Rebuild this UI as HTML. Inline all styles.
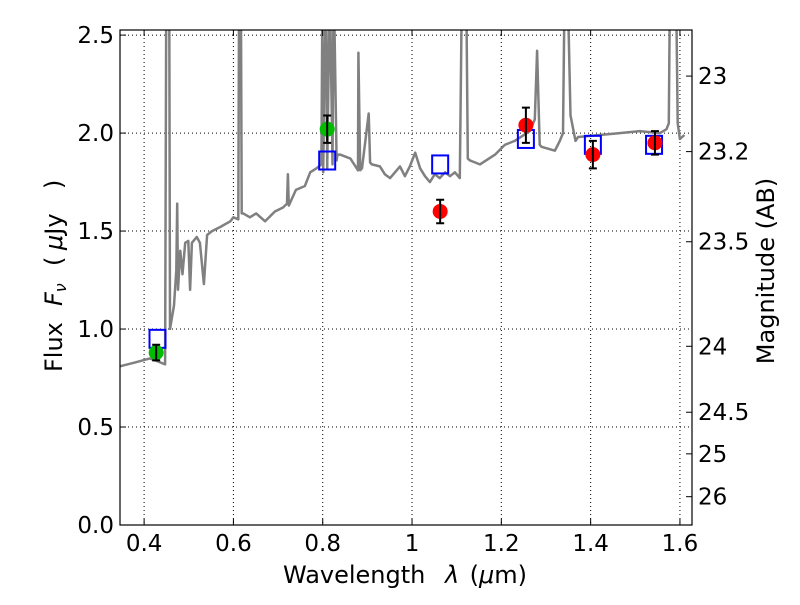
<!DOCTYPE html>
<html><head><meta charset="utf-8"><style>
body{margin:0;background:#fff;}
svg text{font-family:"DejaVu Sans","Liberation Sans",sans-serif;fill:#000;}
</style></head><body>
<svg id="chart" width="800" height="600" xmlns="http://www.w3.org/2000/svg">
<rect width="800" height="600" fill="#fff"/>
<g id="grid"></g>
<g id="spec"></g>
<g id="marks"></g>
<g id="axes"></g>
</svg>
<script>
const specLam=[0.346,0.38,0.413,0.425,0.436,0.447,0.4495,0.451,0.455,0.4565,0.458,0.467,0.472,0.474,0.476,0.481,0.486,0.492,0.499,0.503,0.507,0.518,0.525,0.534,0.541,0.552,0.57,0.593,0.6,0.611,0.6125,0.617,0.6185,0.622,0.637,0.651,0.671,0.693,0.711,0.720,0.722,0.724,0.74,0.76,0.772,0.786,0.797,0.799,0.801,0.806,0.808,0.810,0.815,0.817,0.822,0.824,0.826,0.831,0.833,0.839,0.862,0.879,0.880,0.884,0.888,0.903,0.906,0.910,0.928,0.939,0.951,0.973,0.984,0.995,1.007,1.018,1.029,1.04,1.051,1.062,1.074,1.085,1.096,1.107,1.111,1.113,1.122,1.125,1.13,1.152,1.186,1.208,1.23,1.264,1.275,1.28,1.286,1.29,1.32,1.331,1.338,1.341,1.347,1.350,1.355,1.366,1.372,1.42,1.465,1.51,1.555,1.570,1.575,1.577,1.592,1.595,1.600,1.610,1.627];
const specFlux=[0.81,0.83,0.85,0.84,0.83,0.82,2.6,2.6,2.6,2.6,1.0,1.12,1.3,1.64,1.2,1.4,1.28,1.44,1.45,1.2,1.44,1.47,1.44,1.23,1.48,1.50,1.52,1.55,1.57,1.56,2.6,2.6,1.59,1.59,1.57,1.59,1.55,1.60,1.62,1.64,1.79,1.63,1.71,1.73,1.80,1.82,1.84,2.6,1.80,2.6,2.6,1.82,2.6,2.6,1.84,2.6,2.6,1.86,1.89,1.89,1.87,1.81,2.41,1.81,1.82,2.10,1.85,1.84,1.83,1.79,1.77,1.83,1.78,1.83,1.90,1.82,1.78,1.75,1.79,1.77,1.80,1.78,1.80,1.77,2.6,2.6,2.6,1.87,1.86,1.84,1.89,1.94,1.96,2.01,2.07,2.42,1.94,1.93,1.91,1.96,2.0,2.6,2.6,2.6,2.09,1.96,1.98,1.99,2.0,2.01,2.0,2.02,2.05,2.6,2.6,2.05,1.97,1.99];
const photLam=[0.427,0.81,1.063,1.255,1.405,1.544];
const photFlux=[0.88,2.02,1.60,2.04,1.89,1.95];
const photErr=[0.04,0.07,0.06,0.09,0.07,0.06];
const photColor=['#00bb00','#00bb00','#ff0000','#ff0000','#ff0000','#ff0000'];
const modelLam=[0.43,0.81,1.063,1.255,1.405,1.542];
const modelFlux=[0.95,1.86,1.84,1.97,1.94,1.94];
const xTicks=[0.4,0.6,0.8,1.0,1.2,1.4,1.6];
const xTickLabels=['0.4','0.6','0.8','1','1.2','1.4','1.6'];
const yTicks=[0,0.5,1,1.5,2,2.5];
const yTickLabels=['0.0','0.5','1.0','1.5','2.0','2.5'];
const magTicks=[23,23.2,23.5,24,24.5,25,26];
const magTickLabels=['23','23.2','23.5','24','24.5','25','26'];

const L=120,R=692,T=30,B=525,X0=0.346,X1=1.627,Y0=0,Y1=2.526;
const sx=v=>L+(v-X0)/(X1-X0)*(R-L);
const sy=v=>B-(v-Y0)/(Y1-Y0)*(B-T);
const NS='http://www.w3.org/2000/svg';
function mk(parent,tag,attrs,txt){const e=document.createElementNS(NS,tag);for(const k in attrs)e.setAttribute(k,attrs[k]);if(txt!==undefined)e.textContent=txt;parent.appendChild(e);return e;}
const grid=document.getElementById('grid'),spec=document.getElementById('spec'),marks=document.getElementById('marks'),axes=document.getElementById('axes');

xTicks.forEach(t=>{const g=mk(grid,'line',{x1:sx(t),x2:sx(t),y1:T,y2:B,stroke:'#000','stroke-width':1,'stroke-dasharray':'1,3'});

});
yTicks.forEach(t=>{const g=mk(grid,'line',{x1:L,x2:R,y1:sy(t),y2:sy(t),stroke:'#000','stroke-width':1,'stroke-dasharray':'1,3'});

});

const defs=mk(document.getElementById('chart'),'defs',{});
const cp=mk(defs,'clipPath',{id:'clip'});mk(cp,'rect',{x:L,y:T,width:R-L,height:B-T});
spec.setAttribute('clip-path','url(#clip)');
const pts=specLam.map((l,i)=>sx(l).toFixed(1)+','+sy(specFlux[i]).toFixed(1)).join(' ');
const pl=mk(spec,'polyline',{points:pts,fill:'none',stroke:'#808080','stroke-width':2.5,'stroke-linejoin':'round'});



modelLam.forEach((l,i)=>{const r=mk(marks,'rect',{x:sx(l)-8,y:sy(modelFlux[i])-9,width:16,height:18,fill:'none',stroke:'#0000ff','stroke-width':2});

});
photLam.forEach((l,i)=>{const c=mk(marks,'circle',{cx:sx(l),cy:sy(photFlux[i]),r:7.5,fill:photColor[i]});


const x=sx(l),y1=sy(photFlux[i]+photErr[i]),y2=sy(photFlux[i]-photErr[i]);
const eb=mk(marks,'path',{d:`M${x},${y1}V${y2}M${x-4},${y1}H${x+4}M${x-4},${y2}H${x+4}`,stroke:'#000','stroke-width':2,fill:'none'});

});

mk(axes,'rect',{x:L,y:T,width:R-L,height:B-T,fill:'none',stroke:'#000','stroke-width':1.2});
xTicks.forEach((t,i)=>{mk(axes,'line',{x1:sx(t),x2:sx(t),y1:B,y2:B-6,stroke:'#000'});mk(axes,'line',{x1:sx(t),x2:sx(t),y1:T,y2:T+6,stroke:'#000'});
const tx=mk(axes,'text',{x:sx(t),y:B+26,'font-size':23,'text-anchor':'middle'},xTickLabels[i]);

});
yTicks.forEach((t,i)=>{mk(axes,'line',{x1:L,x2:L+6,y1:sy(t),y2:sy(t),stroke:'#000'});
const tx=mk(axes,'text',{x:L-6,y:sy(t)+8,'font-size':23,'text-anchor':'end'},yTickLabels[i]);

});
magTicks.forEach((m,i)=>{const f=Math.pow(10,(23.9-m)/2.5);const y=sy(f);
mk(axes,'line',{x1:R,x2:R-6,y1:y,y2:y,stroke:'#000'});
const tx=mk(axes,'text',{x:R+6,y:y+8,'font-size':23},magTickLabels[i]);

});
</script>
<svg width="800" height="600" style="position:absolute;left:0;top:0" xmlns="http://www.w3.org/2000/svg">
<text x="283" y="583" font-size="24">Wavelength<tspan x="445" font-style="italic">λ</tspan><tspan x="462"> (</tspan><tspan font-style="italic">μ</tspan>m)</text>
<text transform="translate(62,0) rotate(-90)" font-size="24"><tspan x="-372">Flux</tspan><tspan x="-306" font-style="italic">F</tspan><tspan font-style="italic" font-size="16" dy="4">ν</tspan><tspan x="-266" dy="-4">(</tspan><tspan x="-250" font-style="italic">μ</tspan><tspan>Jy</tspan><tspan x="-189">)</tspan></text>
<text transform="translate(774,271) rotate(-90)" font-size="24" text-anchor="middle">Magnitude (AB)</text>
</svg>
</body></html>
